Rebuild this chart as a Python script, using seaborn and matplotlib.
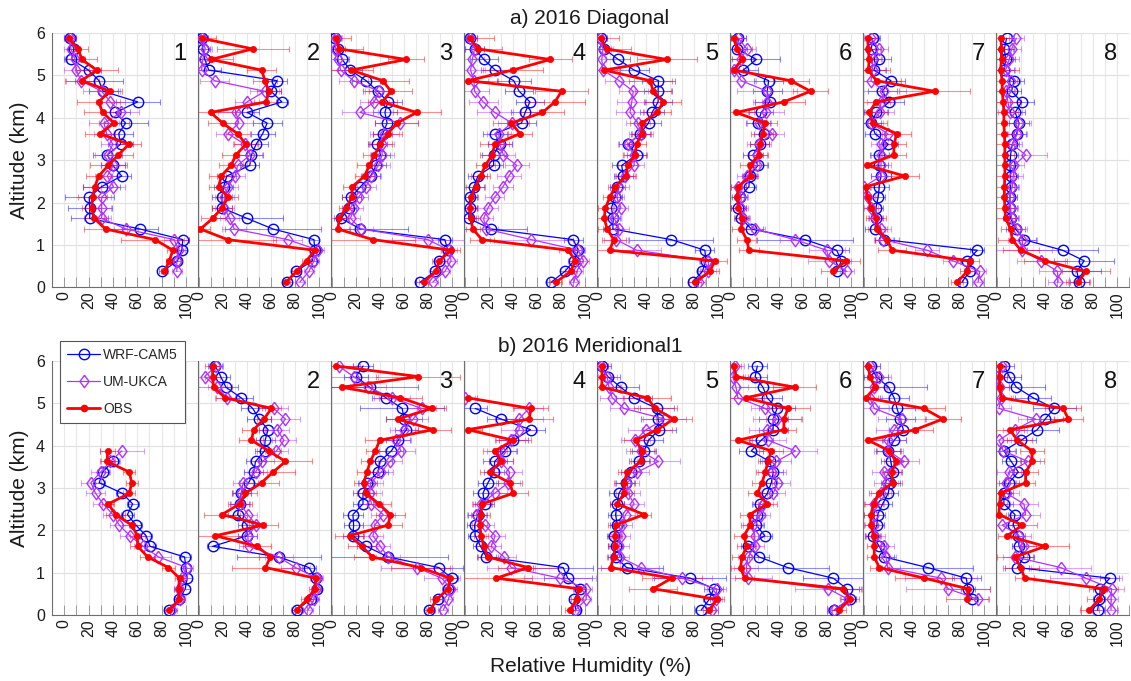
import numpy as np
import matplotlib
matplotlib.use('Agg')
import matplotlib.pyplot as plt
from matplotlib.lines import Line2D
from matplotlib.ticker import MultipleLocator
import seaborn as sns

nan = np.nan

# altitude levels (km), listed from the top of each profile down
alt = [5.875, 5.625, 5.375, 5.125, 4.875, 4.625, 4.375, 4.125, 3.875, 3.625, 3.375, 3.125,
       2.875, 2.625, 2.375, 2.125, 1.875, 1.625, 1.375, 1.125, 0.875, 0.625, 0.375, 0.125]

# ---- a) 2016 Diagonal : relative humidity (%) per site 1..8 ----
obs_a = [
    [3.8, 11.5, 14.6, 26.6, 14.3, 37.6, 28.3, 31.6, 41, 29.4, 53.3, 44.5, 36.3, 28.3, 25.3, 23.4, 22.5, 24.7, 34, 74.7, 89.3, 86.5, 82.4, nan],
    [2, 44.7, 9.8, 52, 55, 58, 56, 9.5, 19.6, 32, 39, 30.7, 26.5, 18.4, 16.2, 24, 19, 11.2, 1, 23.7, 96.4, 89.7, 81.3, 72.6],
    [3.3, 6, 61.7, 15.8, 42.2, 49, 41.7, 70.5, 54, 46.4, 40.3, 35.3, 31, 27, 16.7, 16.4, 11.7, 6, 4.7, 34, 99, 89.4, 86.7, 76.4],
    [4.2, 10.6, 71, 39.7, 2.2, 80.4, 74.9, 64.5, 38.5, 45.8, 24.6, 22.6, 16.8, 12.8, 8.7, 5, 4.2, 4.5, 6.4, 14, 86, 92, 88, 76],
    [2.2, 7, 57.3, 5, 43.3, 46, 54.4, 49, 36.9, 36.3, 32, 30.7, 24.6, 23.2, 14, 9.8, 6, 5, 7.5, 13, 9.5, 97.5, 93, 81],
    [2, 5, 9, 2.2, 49.7, 66.2, 43.9, 4.2, 28, 26.5, 23.7, 23, 15.4, 16.2, 6, 5, 6, 9, 8.4, 13, 14.8, 95.8, 85.2, nan],
    [2.8, 3.4, 4.2, 3.4, 10.3, 58.7, 9.8, 4.2, 7, 27, 25, 24.6, 2.2, 34, 1.4, 2.8, 6, 9.8, 11, 19, 23.2, 88, 86, 77.7],
    [3.4, 3.4, 3.6, 2.8, 4.2, 4.2, 5, 5.6, 5.6, 6, 6.4, 6.4, 6.4, 6.4, 6, 6, 6.4, 7, 11.2, 12.6, 19.6, 40, 74, 67.6],
]
wrf_a = [
    [4.7, 8, 6, 20, 28.6, 32, 60.4, 42, 50.5, 44.8, 46.4, 35.4, 40, 47.3, 30.8, 20.6, 21, 21, 62.4, 97.5, 96.7, 93.1, 80.8, nan],
    [2, 3, 4.7, 8, 65, 60, 69, 40, 56.7, 53, 47.5, 43.6, 42.2, 23, 20.4, 19, 19, 40, 61.7, 95.8, 96.4, 94.4, 80.7, 73.5],
    [2, 5, 8.3, 15, 28.3, 38, 46.4, 44, 45.8, 42.2, 37.5, 40.3, 36.7, 32, 23.6, 15.8, 13.9, 7.5, 23.6, 94, 96.4, 89.4, 85.8, 73.6],
    [3.6, 8, 15.6, 25, 40.5, 45, 54, 50, 47, 25, 28.8, 23.7, 23.7, 10.6, 7.3, 3.6, 3.6, 2.8, 21.8, 90.2, 94.4, 90.8, 83.2, 72],
    [2.2, 5, 16.8, 30, 50.3, 50, 50, 45, 42, 35, 25, 32, 19.6, 21, 16, 14, 11, 12.6, 12.2, 61, 89, 90, 87, 78.8],
    [6, 5, 21, 10, 31.3, 30, 32, 25, 22.3, 27, 23.7, 18.2, 22.3, 15.4, 14.8, 7, 6, 8.4, 16.8, 61.5, 88, 92, 88, nan],
    [7, 6, 12, 8, 22.3, 15, 21, 10, 6, 9, 20, 12.6, 12, 14, 12.6, 11.7, 9.8, 9.8, 9, 16.8, 94.4, 86, 88, 81.6],
    [7.8, 6, 7, 6, 14, 12, 20.4, 15, 18.2, 16.2, 12.6, 11.2, 10.6, 11.2, 11.2, 10.6, 10.6, 11.2, 15.4, 22.3, 54.5, 72.6, 66.5, 68.4],
]
um_a = [
    [4.7, 5.5, 9, 10, 13.7, 30.8, 38, 46.7, 32.7, 34.9, 40, 35.7, 40.4, 35.4, 40.4, 30.8, 30.8, 30.8, 50.8, 90.4, 94, 92.6, 92.6, nan],
    [2.5, 5, 3, 2, 12.8, 54.7, 40, 30.7, 33, 24, 38, 42.7, 32, 30, 24, 21, 21, 25.4, 29.3, 74, 99.4, 95.8, 91.6, 84],
    [3.3, 2.5, 5, 7, 17.8, 39.4, 35, 23.3, 56.7, 43.6, 41.4, 41.7, 38.6, 32.5, 28.3, 22, 17.8, 15.3, 24, 79.7, 97.8, 99.2, 94, 84],
    [4.2, 7.8, 6, 4.5, 7.3, 7.8, 15, 24.6, 39, 28, 28.8, 31.8, 43, 36.3, 31.6, 24.6, 19, 15.4, 17, 55.3, 94.4, 98.6, 93, 90.8],
    [1.4, 4, 3, 4, 17.6, 29.3, 28, 26.5, 33, 35.8, 24.6, 29.6, 30, 22.3, 17.6, 15.4, 19, 13.4, 17.6, 15, 32, 92, 92, 84],
    [6, 13, 8, 2, 8.4, 30, 30, 29.3, 23, 34.4, 23, 21.8, 21.8, 13, 6, 8.4, 7.8, 9.8, 20, 53, 79.6, 82, 96.4, nan],
    [6, 12, 7, 7, 5.6, 16.8, 14, 13, 5.6, 19.6, 14, 14, 14, 14, 0, 2.8, 5.6, 9, 14, 16, 52.5, 74, 96.4, 95],
    [16, 12, 10, 7, 11.2, 7, 9, 10.3, 18.2, 16.8, 12.6, 23.7, 14, 13.4, 12.6, 10.6, 11.2, 12, 16.8, 21, 21, 36.3, 50.3, 50.8],
]
obs_a_err = [
    [3, 8, 12, 18, 14, 10, 18, 15, 12, 12, 10, 12, 15, 10, 10, 12, 8, 8, 18, 28, 5, 3, 3, nan],
    [12, 30, 18, 12, 10, 10, 10, 20, 12, 10, 10, 12, 10, 10, 8, 8, 8, 10, 8, 40, 5, 4, 4, 3],
    [12, 20, 15, 18, 22, 18, 12, 20, 18, 12, 10, 10, 10, 8, 8, 8, 6, 8, 10, 35, 8, 6, 5, 4],
    [20, 20, 18, 25, 25, 22, 25, 18, 15, 10, 12, 10, 8, 8, 8, 6, 6, 6, 6, 10, 8, 6, 5, 5],
    [15, 20, 25, 12, 18, 15, 15, 12, 10, 8, 8, 10, 8, 8, 6, 6, 6, 6, 8, 10, 20, 10, 8, 5],
    [8, 12, 10, 8, 15, 15, 18, 15, 10, 10, 8, 8, 8, 6, 6, 6, 6, 6, 8, 8, 8, 12, 10, nan],
    [8, 10, 10, 18, 20, 30, 12, 15, 12, 12, 10, 10, 15, 12, 10, 8, 8, 8, 8, 10, 12, 8, 6, 5],
    [8, 10, 10, 15, 12, 10, 15, 12, 10, 8, 8, 8, 8, 8, 8, 8, 8, 8, 8, 12, 15, 18, 20, 10],
]
wrf_a_err = [
    [5, 5, 6, 10, 20, 12, 18, 12, 18, 12, 10, 12, 10, 8, 15, 20, 18, 15, 15, 5, 4, 3, 3, nan],
    [5, 6, 8, 10, 8, 8, 5, 10, 12, 10, 10, 10, 8, 8, 8, 8, 8, 30, 40, 4, 4, 3, 4, 4],
    [5, 6, 6, 10, 12, 12, 12, 10, 10, 8, 8, 8, 8, 8, 8, 8, 6, 6, 40, 6, 4, 4, 4, 4],
    [6, 8, 12, 12, 14, 12, 12, 12, 12, 10, 10, 10, 8, 8, 8, 6, 6, 6, 30, 8, 5, 4, 4, 4],
    [5, 6, 10, 12, 14, 12, 12, 10, 10, 8, 8, 8, 8, 8, 6, 6, 6, 6, 8, 35, 8, 5, 4, 4],
    [6, 8, 20, 12, 12, 12, 12, 10, 10, 8, 8, 8, 8, 6, 6, 6, 6, 6, 10, 40, 10, 6, 5, nan],
    [6, 8, 10, 10, 12, 12, 12, 10, 8, 8, 8, 8, 8, 8, 8, 6, 6, 6, 8, 8, 6, 5, 5, 4],
    [6, 8, 8, 8, 8, 8, 10, 8, 8, 8, 6, 6, 6, 6, 6, 6, 6, 6, 8, 10, 30, 25, 20, 8],
]
um_a_err = [
    [5, 6, 8, 10, 12, 15, 12, 15, 12, 10, 10, 10, 10, 10, 10, 8, 8, 8, 10, 8, 5, 4, 4, nan],
    [5, 6, 8, 10, 12, 12, 10, 15, 12, 10, 10, 10, 8, 8, 8, 8, 8, 8, 10, 12, 5, 4, 4, 4],
    [5, 6, 8, 10, 12, 12, 12, 15, 15, 12, 10, 10, 10, 8, 8, 8, 8, 8, 10, 30, 6, 5, 4, 4],
    [6, 8, 10, 12, 12, 12, 12, 15, 12, 10, 10, 10, 10, 10, 8, 8, 8, 8, 10, 35, 6, 5, 5, 4],
    [6, 8, 10, 12, 12, 12, 12, 12, 10, 10, 8, 8, 8, 8, 8, 6, 6, 6, 8, 10, 20, 8, 6, 5],
    [6, 8, 10, 10, 12, 25, 12, 15, 10, 10, 10, 8, 8, 8, 6, 6, 6, 6, 8, 12, 15, 18, 6, nan],
    [6, 8, 8, 10, 12, 18, 12, 12, 10, 10, 8, 8, 8, 8, 6, 6, 6, 6, 8, 8, 10, 8, 5, 4],
    [6, 8, 8, 8, 8, 8, 10, 10, 10, 8, 8, 18, 8, 8, 6, 6, 6, 6, 8, 12, 25, 20, 15, 8],
]

# ---- b) 2016 Meridional1 ----
obs_b = [
    [nan, nan, nan, nan, nan, nan, nan, nan, 35.7, 35.4, 53.6, 55.5, 53.6, 36.3, 42.3, 55.5, 60.2, 60.4, 68.7, 85.7, 94.8, 94, 94.5, 86.5],
    [11.2, 11.2, 12, 21.8, 60.3, 54, 45.5, 43.6, 58, 72, 61.7, 52, 38.5, 33.8, 19, 53.4, 13.4, 48.3, 59.5, 55.3, 97.2, 96.4, 90.2, 81.3],
    [3.4, 71.8, 8, 57, 83, 54.5, 84.4, 39.7, 36, 31.8, 29, 26.3, 28.5, 38.8, 48.6, 46.6, 14.5, 24.9, 33.5, 73.7, 98.3, 97, 87, 82],
    [nan, nan, nan, 2.2, 54.5, 53.6, 2.2, 40, 25, 30, 20.4, 37, 40, 14.2, 12.8, 12, 13.4, 15.4, 19, 52.5, 26, 95, 93, 87.4],
    [2.8, 3.4, 2.8, 41, 47.5, 62.9, 49.4, 31.3, 36.9, 35.5, 24.3, 21.5, 21.5, 15.9, 38.3, 14.5, 14, 14, 13.1, 10.3, 61.4, 46, 99, 92.7],
    [2.2, 4.2, 53, 12, 47.5, 44, 44, 5.6, 33.5, 30.7, 28.5, 25.7, 21.8, 30.2, 15.4, 16, 10.6, 13, 9, 7.8, 11.2, 93.6, 99, 90.2],
    [3.4, 4.7, 9.2, 1.4, 49.7, 65.6, 42.7, 3.4, 21, 26.5, 23, 23.7, 12, 7.8, 5.6, 5.6, 7.8, 8.4, 8.4, 12.6, 50.3, 86.6, 86, nan],
    [2, 2, 2, 3.6, 55, 59.5, 10.6, 16.8, 28.8, 29.3, 23.7, 23.7, 2.8, 2, 1.4, 21, 8.4, 40, 15, 19.6, 23, 89, 85, 77],
]
wrf_b = [
    [nan, nan, nan, nan, nan, nan, nan, nan, nan, 39.8, 31.6, 28.8, 47.8, 56.3, 52, 59, 67.3, 70.6, 99, 100, 101, 99.5, 94.5, 86.3],
    [13.4, 18, 22.3, 35, 44.7, 50, 57.5, 55, 54.5, 47, 45.5, 41.3, 35, 33.8, 32, 40, 40, 11.2, 66.5, 91.6, 97.2, 98, 93, 81.3],
    [25.7, 20, 31.3, 45, 58.4, 60, 62, 55, 49.4, 39.7, 38.3, 29.3, 25.7, 25.7, 17.3, 17.9, 17.3, 28.5, 46.6, 89, 99.7, 97, 88, 80.7],
    [nan, nan, nan, nan, 8.4, 30, 54.5, 40, 33, 24.6, 24, 19, 14.8, 16.2, 10.6, 7.8, 8.4, 12.8, 17.6, 81.8, 85.5, 95.8, 91, 92.2],
    [3, 8, 18.7, 30, 48.9, 50, 50.8, 42, 38.3, 34, 27, 22.9, 17.3, 15.9, 14.5, 15.9, 13, 14.5, 14.5, 23.7, 76.8, 96.4, 92.7, 86],
    [21.8, 20, 26.5, 30, 38.3, 35, 35, 25, 16.8, 32, 35, 33.5, 30.2, 23.7, 21.8, 21, 28, 14, 23.2, 47, 85.2, 96.4, 99, 86],
    [5.6, 10, 20.4, 25, 27.4, 30, 32.7, 25, 20, 22.3, 23.7, 21.8, 20, 15.4, 11.2, 10.6, 7, 12.6, 16.8, 53, 85.2, 86.6, 90, nan],
    [6, 10, 16, 30, 47.5, 40, 33.5, 20, 5.6, 11.7, 17.6, 9.8, 5.6, 5.6, 14.8, 13.4, 17.6, 18.2, 22.3, 16.8, 94, 86, 85.2, 83.8],
]
um_b = [
    [nan, nan, nan, nan, nan, nan, nan, nan, 47.3, 38, 30, 22, 25.8, 32, 40, 45.3, 54, 65, 77.5, 100.8, 96.7, 94, 95.3, 89],
    [14, 4.5, 15, 23.2, 62.3, 72, 65, 70.7, 64.5, 52.5, 47, 36.6, 35, 34.4, 40.5, 47.8, 40.5, 41.3, 66.5, 80.4, 98.6, 97.2, 95.8, 90.8],
    [5.3, 17.9, 30, 50, 74.6, 67.6, 60, 53.6, 57.3, 48, 41, 32, 31.3, 32.7, 42.5, 35.5, 34, 40.2, 46.6, 70.4, 91.3, 99.2, 97, 92.7],
    [nan, nan, nan, 0, 53, 45, 45, 38, 30, 29.6, 37, 35.8, 24.6, 13.4, 9.2, 16.2, 25, 21.8, 32.4, 38.5, 79, 101, 101, 92],
    [2, 7.5, 9, 11.7, 21.5, 55.6, 40, 31, 35.5, 50.3, 32.7, 24.3, 25, 29.9, 22.9, 20, 18.7, 17.3, 18, 35.5, 70, 99, 98, 95],
    [2.8, 1.4, 4, 5.6, 28.5, 38, 30, 30.7, 53.6, 37.7, 34, 39, 35, 26.5, 24.6, 18.2, 19.6, 19.6, 14, 12.6, 14, 81, 97.8, 86],
    [5, 12, 8, 4.7, 8.4, 31.3, 25, 19.6, 20, 33.5, 16.8, 18.2, 14, 8.4, 7.8, 8.4, 9, 16.8, 18.2, 19.6, 64.2, 70, 95, nan],
    [4.2, 0, 2, 3.4, 1.4, 32, 15, 1.4, 5, 25.7, 9.8, 7, 7.8, 22.3, 23.7, 4.2, 18.2, 22.3, 14.8, 53, 74, 95.5, 95, 95],
]
obs_b_err = [
    [nan, nan, nan, nan, nan, nan, nan, nan, 6, 6, 5, 5, 5, 5, 8, 8, 6, 6, 6, 5, 4, 4, 4, 4],
    [6, 6, 15, 8, 8, 6, 10, 10, 10, 22, 18, 15, 10, 10, 15, 12, 25, 12, 10, 28, 5, 5, 5, 5],
    [20, 35, 25, 18, 12, 10, 15, 12, 8, 8, 8, 8, 8, 10, 12, 12, 12, 12, 15, 25, 6, 5, 5, 4],
    [nan, nan, nan, 8, 15, 20, 12, 15, 10, 10, 8, 10, 12, 8, 8, 6, 6, 6, 8, 25, 30, 5, 5, 4],
    [5, 8, 15, 20, 18, 15, 12, 10, 10, 8, 8, 8, 8, 6, 6, 6, 6, 6, 6, 8, 25, 20, 6, 5],
    [6, 10, 18, 15, 18, 15, 10, 12, 10, 8, 8, 8, 8, 8, 8, 8, 8, 8, 8, 8, 8, 15, 8, 6],
    [6, 8, 10, 10, 18, 15, 15, 12, 10, 10, 8, 8, 8, 8, 6, 6, 6, 6, 6, 8, 25, 18, 18, nan],
    [5, 6, 8, 8, 15, 12, 12, 12, 10, 10, 10, 8, 8, 6, 6, 12, 8, 20, 15, 15, 8, 12, 10, 8],
]
wrf_b_err = [
    [nan, nan, nan, nan, nan, nan, nan, nan, nan, 5, 5, 5, 5, 5, 5, 5, 5, 5, 5, 4, 4, 4, 4, 4],
    [6, 8, 10, 10, 10, 10, 8, 8, 8, 8, 8, 8, 8, 8, 8, 8, 8, 5, 35, 6, 4, 4, 4, 4],
    [8, 10, 40, 12, 35, 15, 10, 10, 10, 10, 8, 8, 8, 8, 8, 8, 8, 8, 50, 20, 5, 4, 4, 4],
    [nan, nan, nan, nan, 10, 12, 12, 12, 10, 10, 8, 8, 8, 8, 8, 6, 6, 6, 8, 25, 20, 5, 4, 4],
    [8, 10, 15, 15, 14, 14, 14, 12, 10, 8, 8, 8, 8, 6, 6, 6, 6, 6, 6, 30, 30, 8, 5, 5],
    [8, 10, 20, 12, 15, 12, 12, 10, 10, 8, 8, 8, 8, 6, 6, 6, 6, 6, 8, 35, 25, 10, 5, 5],
    [8, 10, 32, 12, 15, 12, 12, 10, 10, 8, 8, 8, 8, 8, 6, 6, 6, 6, 8, 38, 12, 6, 5, nan],
    [8, 10, 24, 15, 18, 15, 18, 12, 10, 8, 8, 8, 8, 8, 6, 6, 6, 6, 8, 10, 8, 6, 5, 5],
]
um_b_err = [
    [nan, nan, nan, nan, nan, nan, nan, nan, 18, 8, 8, 8, 8, 8, 8, 8, 8, 8, 10, 5, 4, 4, 4, 4],
    [6, 8, 8, 10, 12, 12, 10, 10, 10, 10, 10, 8, 8, 8, 8, 8, 8, 8, 12, 12, 5, 4, 4, 4],
    [12, 20, 15, 15, 12, 12, 12, 12, 12, 10, 10, 10, 10, 10, 10, 10, 8, 8, 10, 30, 15, 5, 4, 4],
    [nan, nan, nan, 8, 12, 20, 15, 12, 12, 10, 10, 10, 10, 8, 8, 8, 8, 8, 10, 20, 30, 5, 4, 4],
    [6, 8, 10, 10, 12, 18, 15, 12, 12, 18, 10, 10, 10, 8, 8, 8, 8, 8, 8, 15, 25, 8, 5, 5],
    [8, 10, 10, 10, 12, 20, 15, 15, 18, 12, 12, 10, 10, 8, 8, 8, 8, 8, 8, 10, 20, 28, 6, 6],
    [8, 10, 10, 10, 12, 20, 15, 15, 12, 12, 10, 10, 8, 8, 8, 8, 8, 8, 8, 10, 30, 35, 8, nan],
    [6, 8, 8, 10, 10, 15, 10, 10, 10, 10, 10, 8, 10, 12, 12, 8, 10, 10, 10, 25, 30, 10, 6, 6],
]

site_labels = ['1', '2', '3', '4', '5', '6', '7', '8']
xticks = [0, 20, 40, 60, 80, 100]

sns.set_theme(style='white')
plt.rcParams['font.family'] = ['Liberation Sans', 'DejaVu Sans']

c_wrf = '#0000ff'
c_um = '#b233ff'
c_obs = '#ff0000'
diamond = [(0, 1), (0.73, 0), (0, -1), (-0.73, 0), (0, 1)]

W, H = 1131, 681
fig = plt.figure(figsize=(W / 100, H / 100), dpi=100)


def draw_row(top, bottom, wrf, um, obs, wrf_err, um_err, obs_err, title, title_y, skip_first_label):
    for i in range(8):
        if i == 0:
            left, width, xlim = 52, 146, (-10, 110)
        else:
            left, width, xlim = 198 + 133 * (i - 1), 133, (-1, 110)
        ax = fig.add_axes([left / W, 1 - bottom / H, width / W, (bottom - top) / H])
        ax.set_facecolor('white')

        # error bars under the profiles
        for vals, err, col in [(wrf[i], wrf_err[i], c_wrf), (um[i], um_err[i], c_um),
                               (obs[i], obs_err[i], c_obs)]:
            ax.errorbar(vals, alt, xerr=err, fmt='none', ecolor=col, alpha=0.45,
                        elinewidth=0.8, capsize=2, capthick=0.8, zorder=2)

        sns.lineplot(x=np.array(wrf[i], dtype=float), y=alt, orient='y', estimator=None, ax=ax,
                     color=c_wrf, lw=0.9, marker='o', ms=7.5, mfc='none', mec=c_wrf, mew=1.0,
                     zorder=3)
        sns.lineplot(x=np.array(um[i], dtype=float), y=alt, orient='y', estimator=None, ax=ax,
                     color=c_um, lw=0.9, marker=diamond, ms=9, mfc='none', mec=c_um, mew=1.0,
                     zorder=4)
        sns.lineplot(x=np.array(obs[i], dtype=float), y=alt, orient='y', estimator=None, ax=ax,
                     color=c_obs, lw=2.0, marker='o', ms=4.5, mfc=c_obs, mec=c_obs, mew=0.5,
                     zorder=5)

        ax.set_xlim(*xlim)
        ax.set_ylim(0, 6)
        ax.set_xticks(xticks)
        ax.xaxis.set_minor_locator(MultipleLocator(10))
        ax.set_yticks(range(7))
        ax.grid(True, which='both', axis='x', color='#e8e8e8', lw=0.8)
        ax.grid(True, which='major', axis='y', color='#e0e0e0', lw=0.8)
        ax.set_axisbelow(True)
        ax.tick_params(axis='x', which='both', direction='in', length=7, width=0.6,
                       color='#8c8c8c', labelsize=11.5, labelrotation=90, pad=3,
                       bottom=True, labelcolor='#1a1a1a')
        for s in ['top', 'right']:
            ax.spines[s].set_visible(False)
        for s in ['left', 'bottom']:
            ax.spines[s].set_color('#6e6e6e')
            ax.spines[s].set_linewidth(0.8)
        ax.set_xlabel('')
        if i == 0:
            ax.tick_params(axis='y', direction='in', length=0, labelsize=11.5, pad=5,
                           labelcolor='#1a1a1a')
            ax.set_ylabel('Altitude (km)', fontsize=15, labelpad=5, color='#1a1a1a')
        else:
            ax.tick_params(axis='y', length=0, labelleft=False)
            ax.set_ylabel('')
        if not (skip_first_label and i == 0):
            ax.text(95, 5.5, site_labels[i], fontsize=17, ha='center', va='center',
                    color='#111111', zorder=6)
    fig.text(590 / W, 1 - title_y / H, title, fontsize=15, ha='center', va='center',
             color='#1a1a1a')


draw_row(33, 287.3, wrf_a, um_a, obs_a, wrf_a_err, um_a_err, obs_a_err,
         'a) 2016 Diagonal', 19, False)
draw_row(360.7, 615.3, wrf_b, um_b, obs_b, wrf_b_err, um_b_err, obs_b_err,
         'b) 2016 Meridional1', 347, True)

fig.text(591 / W, 1 - 667 / H, 'Relative Humidity (%)', fontsize=15, ha='center',
         va='center', color='#1a1a1a')

handles = [
    Line2D([], [], color=c_wrf, lw=0.9, marker='o', ms=7.5, mfc='none', mec=c_wrf),
    Line2D([], [], color=c_um, lw=0.9, marker=diamond, ms=9, mfc='none', mec=c_um),
    Line2D([], [], color=c_obs, lw=2.0, marker='o', ms=4.5, mfc=c_obs, mec=c_obs),
]
leg = fig.legend(handles, ['WRF-CAM5', 'UM-UKCA', 'OBS'], loc='upper left',
                 bbox_to_anchor=(60 / W, 1 - 341 / H), frameon=True, fancybox=False,
                 edgecolor='#555555', framealpha=1, fontsize=10, handlelength=2.4,
                 labelspacing=0.95, borderpad=0.5, handletextpad=0.2, borderaxespad=0)
leg.get_frame().set_linewidth(0.8)

fig.savefig('out.png', dpi=100)
